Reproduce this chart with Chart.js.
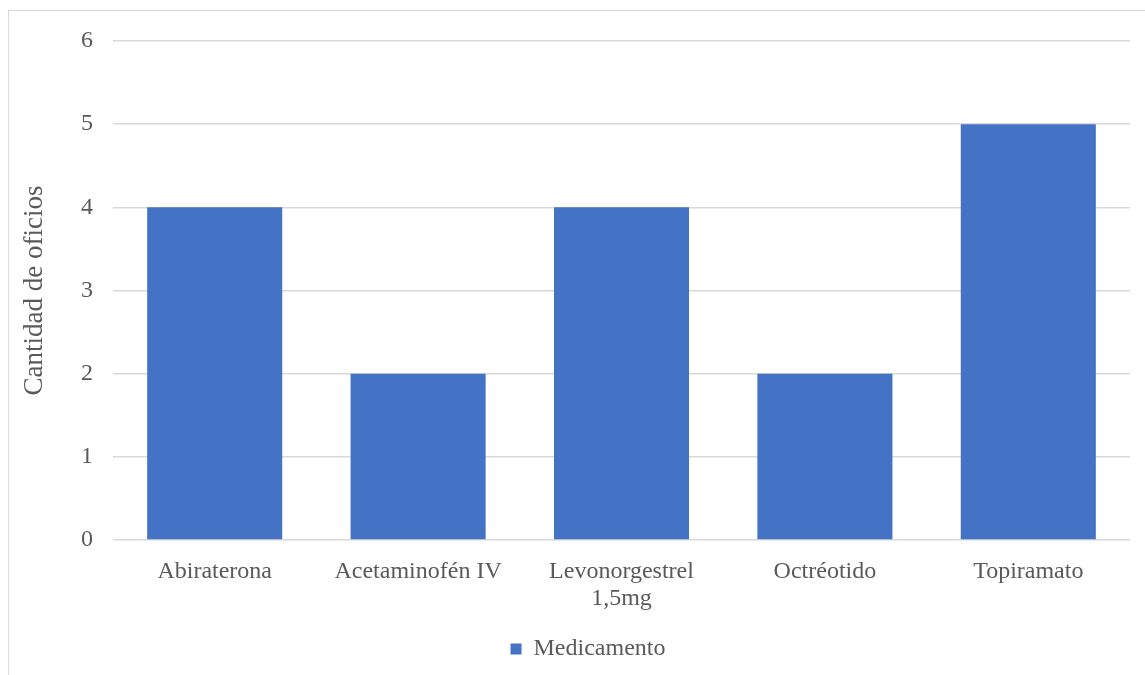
<!DOCTYPE html>
<html lang="es">
<head>
    <meta charset="UTF-8">
    <title>Cantidad de oficios por medicamento</title>
    <script src="https://cdn.jsdelivr.net/npm/chart.js"></script>
    <style>
        html, body {
            margin: 0;
            padding: 0;
            background: #ffffff;
            overflow: hidden;
        }

        .frame {
            position: absolute;
            left: 8px;
            top: 10px;
            width: 1180px;
            height: 700px;
            border: 1px solid #d9d9d9;
        }

        /* the chart is a bit wider than the window, like the cropped original */
        .chart-box {
            position: absolute;
            left: 0;
            top: 0;
            width: 1178px;
            height: 675px;
        }
    </style>
</head>
<body>
    <div class="frame"></div>
    <div class="chart-box">
        <canvas id="oficiosChart"></canvas>
    </div>

    <script>
        const categories = ['Abiraterona', 'Acetaminofén IV', ['Levonorgestrel', '1,5mg'], 'Octréotido', 'Topiramato'];
        const medicamento = [4, 2, 4, 2, 5];
        const yTicks = [0, 1, 2, 3, 4, 5, 6];

        const textColor = '#595959';
        const gridColor = '#d9d9d9';
        const serif = "'Liberation Serif', 'Times New Roman', serif";

        const oficiosChart = new Chart(document.getElementById('oficiosChart'), {
            type: 'bar',
            data: {
                labels: categories,
                datasets: [{
                    label: 'Medicamento',
                    data: medicamento,
                    backgroundColor: '#4472c4',
                    barPercentage: 0.664,
                    categoryPercentage: 1
                }]
            },
            options: {
                responsive: true,
                maintainAspectRatio: false,
                animation: false,
                layout: {
                    padding: { top: 41, right: 21, left: 19, bottom: 4 }
                },
                plugins: {
                    legend: {
                        position: 'bottom',
                        labels: {
                            color: textColor,
                            font: { family: serif, size: 24 },
                            boxWidth: 11,
                            boxHeight: 11,
                            padding: 10
                        }
                    },
                    tooltip: { enabled: false }
                },
                scales: {
                    y: {
                        min: 0,
                        max: 6,
                        afterBuildTicks: (axis) => {
                            axis.ticks = yTicks.map(v => ({ value: v }));
                        },
                        afterFit: (axis) => {
                            axis.width = 94;
                        },
                        border: { display: false },
                        grid: {
                            color: gridColor,
                            lineWidth: 1.5,
                            drawTicks: false
                        },
                        ticks: {
                            color: textColor,
                            font: { family: serif, size: 24 },
                            padding: 20
                        },
                        title: {
                            display: true,
                            text: 'Cantidad de oficios',
                            color: textColor,
                            font: { family: serif, size: 27 },
                            padding: { top: 0, bottom: 10 }
                        }
                    },
                    // empty right axis, only keeps the gap right of the plot
                    yRight: {
                        position: 'right',
                        afterFit: (axis) => {
                            axis.width = 27;
                        },
                        border: { display: false },
                        grid: { display: false },
                        ticks: { display: false }
                    },
                    x: {
                        afterFit: (axis) => {
                            axis.height = 87;
                        },
                        border: { display: false },
                        grid: { display: false },
                        ticks: {
                            color: textColor,
                            font: { family: serif, size: 24, lineHeight: 1.12 },
                            padding: 10,
                            maxRotation: 0,
                            autoSkip: false
                        }
                    }
                }
            }
        });
    </script>
</body>
</html>
